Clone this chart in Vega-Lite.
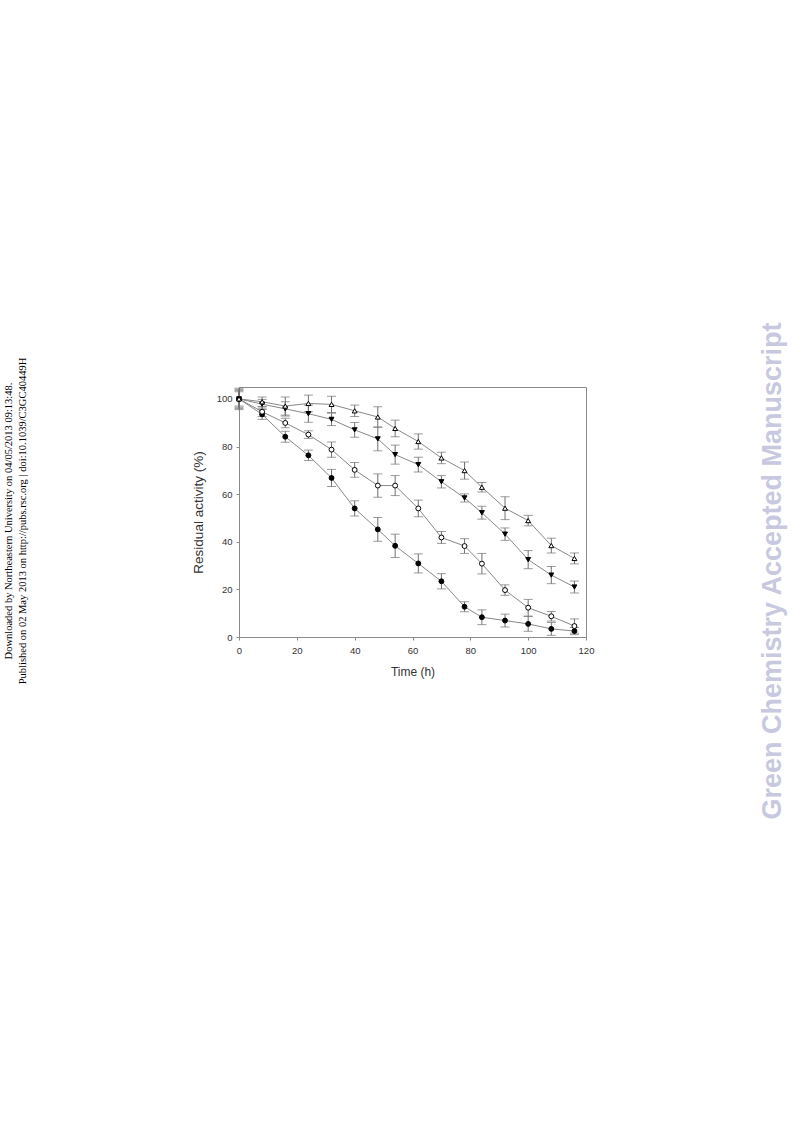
{
  "$schema": "https://vega.github.io/schema/vega-lite/v6.json",
  "autosize": {"type": "none"},
  "padding": {"left": 239, "top": 387, "right": 207, "bottom": 485},
  "width": 347,
  "height": 250,
  "background": "white",
  "config": {
    "view": {"stroke": "#8a8a8a", "strokeWidth": 1},
    "axis": {"domainColor": "#8a8a8a", "tickColor": "#8a8a8a", "labelColor": "#333", "titleColor": "#333", "labelFont": "Liberation Sans", "titleFont": "Liberation Sans", "grid": false, "titleFontWeight": "normal", "tickSize": 3, "labelFlush": false}
  },
  "title": {
    "text": "Downloaded by Northeastern University on 04/05/2013 09:13:48.",
    "subtitle": "Published on 02 May 2013 on http://pubs.rsc.org | doi:10.1039/C3GC40449H",
    "orient": "left", "anchor": "middle", "frame": "group", "offset": 163, "dx": -9,
    "font": "Liberation Serif", "fontSize": 10.5, "fontWeight": "normal", "color": "#000",
    "subtitleFont": "Liberation Serif", "subtitleFontSize": 10.5, "subtitleColor": "#000", "subtitlePadding": 3
  },
  "data": {"values": [
    {"s":"A","t":0,"v":100,"err":3.5},{"s":"A","t":8,"v":93.5,"err":2.1},{"s":"A","t":16,"v":84.1,"err":2.3},{"s":"A","t":24,"v":76.3,"err":2.2},{"s":"A","t":32,"v":66.8,"err":3.6},{"s":"A","t":40,"v":54,"err":3.2},{"s":"A","t":48,"v":45.2,"err":5},{"s":"A","t":54,"v":38.3,"err":4.9},{"s":"A","t":62,"v":30.9,"err":4},{"s":"A","t":70,"v":23.4,"err":3.2},{"s":"A","t":78,"v":12.7,"err":2.1},{"s":"A","t":84,"v":8.3,"err":3.1},{"s":"A","t":92,"v":6.9,"err":2.7},{"s":"A","t":100,"v":5.5,"err":3.1},{"s":"A","t":108,"v":3.4,"err":2.7},{"s":"A","t":116,"v":2.5,"err":1.5},
    {"s":"B","t":0,"v":100,"err":4.5},{"s":"B","t":8,"v":94.6,"err":2},{"s":"B","t":16,"v":89.9,"err":2},{"s":"B","t":24,"v":85,"err":1.6},{"s":"B","t":32,"v":78.7,"err":3.2},{"s":"B","t":40,"v":70.2,"err":3.1},{"s":"B","t":48,"v":63.6,"err":4.9},{"s":"B","t":54,"v":63.6,"err":4.2},{"s":"B","t":62,"v":54,"err":3.5},{"s":"B","t":70,"v":41.8,"err":2.5},{"s":"B","t":78,"v":38.2,"err":3.1},{"s":"B","t":84,"v":30.8,"err":4.3},{"s":"B","t":92,"v":19.7,"err":2.2},{"s":"B","t":100,"v":12.3,"err":3.5},{"s":"B","t":108,"v":8.7,"err":2},{"s":"B","t":116,"v":4.6,"err":3},
    {"s":"C","t":0,"v":100,"err":3},{"s":"C","t":8,"v":97.8,"err":2},{"s":"C","t":16,"v":95.8,"err":3},{"s":"C","t":24,"v":93.8,"err":3.6},{"s":"C","t":32,"v":91.4,"err":2.6},{"s":"C","t":40,"v":87,"err":3.1},{"s":"C","t":48,"v":83.2,"err":5},{"s":"C","t":54,"v":76.6,"err":4},{"s":"C","t":62,"v":72.4,"err":3.1},{"s":"C","t":70,"v":65.2,"err":2.6},{"s":"C","t":78,"v":58.4,"err":1.7},{"s":"C","t":84,"v":52.2,"err":2.7},{"s":"C","t":92,"v":43.2,"err":2.6},{"s":"C","t":100,"v":32.5,"err":3.8},{"s":"C","t":108,"v":26,"err":3.6},{"s":"C","t":116,"v":21,"err":2.5},
    {"s":"D","t":0,"v":100,"err":4},{"s":"D","t":8,"v":98.8,"err":2},{"s":"D","t":16,"v":97,"err":3.8},{"s":"D","t":24,"v":98.1,"err":3.5},{"s":"D","t":32,"v":97.7,"err":3.4},{"s":"D","t":40,"v":95,"err":2.4},{"s":"D","t":48,"v":92.4,"err":4.3},{"s":"D","t":54,"v":87.6,"err":3.5},{"s":"D","t":62,"v":82.1,"err":3.2},{"s":"D","t":70,"v":75.2,"err":2.4},{"s":"D","t":78,"v":69.9,"err":3.6},{"s":"D","t":84,"v":62.9,"err":2},{"s":"D","t":92,"v":54.1,"err":4.8},{"s":"D","t":100,"v":48.9,"err":2.2},{"s":"D","t":108,"v":38.4,"err":3.1},{"s":"D","t":116,"v":33,"err":2.3}
  ]},
  "layer": [
    {
      "mark": {"type": "line", "color": "#888888", "strokeWidth": 1},
      "encoding": {
        "x": {"field": "t", "type": "quantitative", "scale": {"domain": [0, 120], "nice": false},
              "axis": {"values": [0,20,40,60,80,100,120], "title": "Time (h)", "labelFontSize": 9.5, "titleFontSize": 12, "labelPadding": 5, "titlePadding": 12}},
        "y": {"field": "v", "type": "quantitative", "scale": {"domain": [0, 105], "nice": false},
              "axis": {"values": [0,20,40,60,80,100], "title": "Residual activity (%)", "labelFontSize": 9.5, "titleFontSize": 13.5, "labelPadding": 4, "titlePadding": 11}},
        "detail": {"field": "s"}
      }
    },
    {
      "mark": {"type": "errorbar", "ticks": {"size": 9, "color": "#707070"}, "rule": {"color": "#707070"}, "color": "#707070"},
      "encoding": {
        "x": {"field": "t", "type": "quantitative"},
        "y": {"field": "v", "type": "quantitative", "scale": {"domain": [0, 105], "nice": false}, "axis": null},
        "yError": {"field": "err"}
      }
    },
    {
      "mark": {"type": "point", "filled": true, "stroke": "#000", "strokeWidth": 1, "size": 24, "opacity": 1},
      "encoding": {
        "x": {"field": "t", "type": "quantitative"},
        "y": {"field": "v", "type": "quantitative", "scale": {"domain": [0, 105], "nice": false},
              "axis": {"orient": "right", "labels": false, "ticks": false, "domain": false,
                       "title": "Green Chemistry Accepted Manuscript", "titleFont": "Liberation Sans", "titleFontWeight": "bold",
                       "titleFontSize": 27, "titleColor": "#c8c8e0", "titleAngle": 270, "titleAlign": "center",
                       "titleBaseline": "alphabetic", "titleX": 194, "titleY": 183.5}},
        "shape": {"field": "s", "type": "nominal", "scale": {"domain": ["A","B","C","D"], "range": ["circle","circle","triangle-down","triangle-up"]}, "legend": null},
        "fill": {"field": "s", "type": "nominal", "scale": {"domain": ["A","B","C","D"], "range": ["#000","#fff","#000","#fff"]}, "legend": null}
      }
    }
  ],
  "resolve": {"scale": {"y": "independent"}, "axis": {"y": "independent"}}
}
